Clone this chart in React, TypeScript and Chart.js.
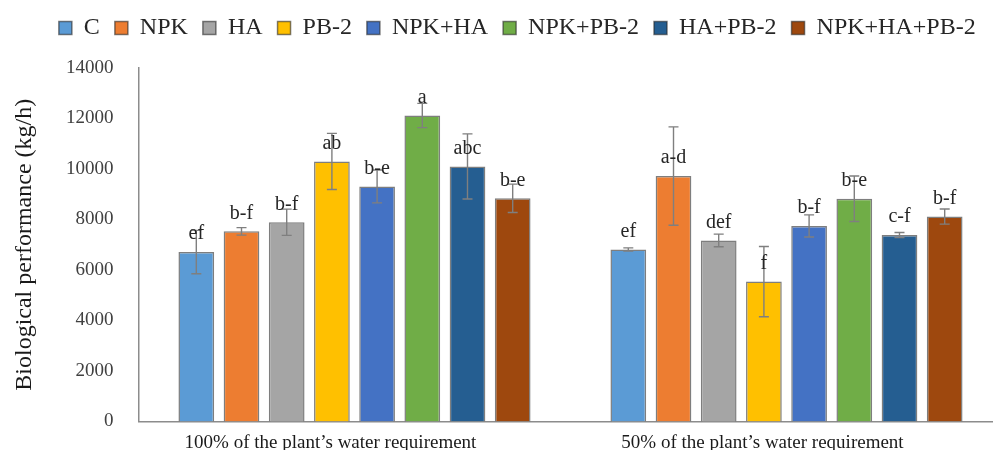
import React, { useEffect, useRef } from "react";
import { Chart, registerables } from "chart.js";

Chart.register(...registerables);

const categories = [
  "100% of the plant\u2019s water requirement",
  "50% of the plant\u2019s water requirement",
];
const treatments = ["C", "NPK", "HA", "PB-2", "NPK+HA", "NPK+PB-2", "HA+PB-2", "NPK+HA+PB-2"];
const colors = ["#5B9BD5", "#ED7D31", "#A5A5A5", "#FFC000", "#4472C4", "#70AD47", "#255E91", "#9E480E"];

const values100 = [6710, 7530, 7890, 10300, 9310, 12120, 10100, 8840];
const errors100 = [860, 150, 520, 1110, 650, 480, 1290, 560];
const letters100 = ["ef", "b-f", "b-f", "ab", "b-e", "a", "abc", "b-e"];

const values50 = [6815, 9720, 7170, 5540, 7745, 8820, 7385, 8115];
const errors50 = [60, 1950, 250, 1390, 440, 900, 100, 300];
const letters50 = ["ef", "a-d", "def", "f", "b-f", "b-e", "c-f", "b-f"];

const yMin = 0;
const yMax = 14000;
const yStep = 2000;

const FONT = "'Liberation Serif', 'Times New Roman', serif";

export default function App() {
  const ref = useRef<HTMLCanvasElement>(null);

  useEffect(() => {
    document.body.style.margin = "0";
    document.body.style.overflow = "hidden";
    const canvas = ref.current;
    if (!canvas) return;

    const errPlugin = {
      id: "errbars",
      afterDatasetsDraw(chart: any) {
        const ctx = chart.ctx;
        const y = chart.scales.y;
        ctx.save();
        chart.data.datasets.forEach((ds: any, i: number) => {
          const meta = chart.getDatasetMeta(i);
          meta.data.forEach((bar: any, j: number) => {
            const v = ds.data[j];
            const e = ds.errors[j];
            const x = bar.x;
            const yTop = y.getPixelForValue(v + e);
            const yBot = y.getPixelForValue(v - e);
            ctx.strokeStyle = "#7f7f7f";
            ctx.lineWidth = 1.4;
            ctx.beginPath();
            ctx.moveTo(x, yTop);
            ctx.lineTo(x, yBot);
            ctx.moveTo(x - 5, yTop);
            ctx.lineTo(x + 5, yTop);
            ctx.moveTo(x - 5, yBot);
            ctx.lineTo(x + 5, yBot);
            ctx.stroke();
          });
        });
        ctx.font = `20px ${FONT}`;
        ctx.fillStyle = "#262626";
        ctx.textAlign = "center";
        ctx.textBaseline = "middle";
        chart.data.datasets.forEach((ds: any, i: number) => {
          const meta = chart.getDatasetMeta(i);
          meta.data.forEach((bar: any, j: number) => {
            const v = ds.data[j];
            ctx.fillText(ds.letters[j], bar.x, y.getPixelForValue(v) - 18);
          });
        });
        ctx.restore();
      },
    };

    const legendShift = {
      id: "legendShift",
      afterLayout(chart: any) {
        const legend = chart.legend;
        if (!legend) return;
        legend.left += 12;
        legend.right += 12;
        legend.top -= 18;
        legend.bottom -= 18;
      },
    };

    const datasets = treatments.map((t, i) => ({
      label: t,
      data: [values100[i], values50[i]],
      errors: [errors100[i], errors50[i]],
      letters: [letters100[i], letters50[i]],
      backgroundColor: colors[i],
      borderColor: "rgba(40,40,40,0.6)",
      borderWidth: 1.5,
      barPercentage: 0.79,
      categoryPercentage: 0.837,
    }));

    const chart = new Chart(canvas, {
      type: "bar",
      data: { labels: categories, datasets: datasets as any },
      options: {
        animation: false,
        responsive: false,
        devicePixelRatio: 1,
        layout: { padding: { left: 8, right: 7.5, top: 19, bottom: 0 } },
        plugins: {
          legend: {
            position: "top",
            labels: {
              font: { family: FONT, size: 24 },
              color: "#262626",
              boxWidth: 13,
              boxHeight: 13,
              padding: 15,
            },
          },
          tooltip: { enabled: false },
        },
        scales: {
          x: {
            grid: { display: false },
            border: { display: true, color: "#8c8c8c", width: 1.5 },
            ticks: {
              font: { family: FONT, size: 19 },
              color: "#1a1a1a",
              padding: 2,
              labelOffset: -24,
              maxRotation: 0,
            },
            afterFit(scale: any) {
              scale.height = 28.5;
            },
          },
          y: {
            min: yMin,
            max: yMax,
            grid: { display: false },
            border: { display: true, color: "#8c8c8c", width: 1.5 },
            ticks: {
              stepSize: yStep,
              font: { family: FONT, size: 19 },
              color: "#404040",
              padding: 17,
              callback: (v: any) => String(v),
            },
            title: {
              display: true,
              text: "Biological performance (kg/h)",
              font: { family: FONT, size: 24 },
              color: "#1a1a1a",
              padding: { top: 2, bottom: 0 },
            },
            afterFit(scale: any) {
              scale.width = 130.5;
            },
          },
        },
      },
      plugins: [errPlugin, legendShift],
    });

    return () => chart.destroy();
  }, []);

  return (
    <div style={{ width: 993, height: 450, overflow: "hidden", position: "relative" }}>
      <canvas ref={ref} width={1010} height={450} style={{ width: 1010, height: 450, display: "block" }} />
    </div>
  );
}
